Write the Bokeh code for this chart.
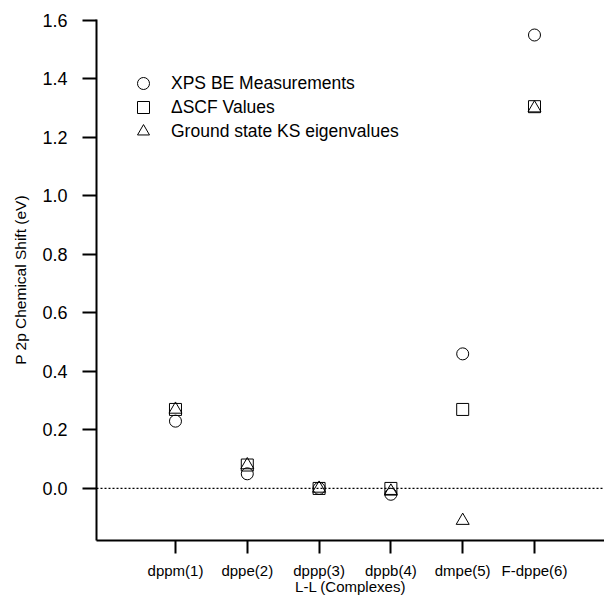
from bokeh.plotting import figure
from bokeh.models import Range1d, Span, Legend, LegendItem, FixedTicker
from bokeh.embed import file_html
from bokeh.resources import INLINE

categories = ["dppm(1)", "dppe(2)", "dppp(3)", "dppb(4)", "dmpe(5)", "F-dppe(6)"]
positions = [1, 2, 3, 4, 5, 6]
xps_be = [0.23, 0.05, 0.0, -0.02, 0.46, 1.55]
dscf = [0.27, 0.08, 0.0, 0.0, 0.27, 1.305]
ks_eigen = [0.27, 0.08, 0.0, -0.01, -0.11, 1.30]
y_ticks = [0.0, 0.2, 0.4, 0.6, 0.8, 1.0, 1.2, 1.4, 1.6]
series_labels = ["XPS BE Measurements", "\u0394SCF Values", "Ground state KS eigenvalues"]
x_title = "L-L (Complexes)"
y_title = "P 2p Chemical Shift (eV)"

FONT = "Liberation Sans"

p = figure(width=604, height=597, output_backend="svg", toolbar_location=None,
           x_range=Range1d(-0.1, 6.975), y_range=Range1d(-0.178, 1.603),
           min_border_left=96, min_border_right=0, min_border_top=19, min_border_bottom=57)
p.outline_line_color = None
p.xgrid.visible = False
p.ygrid.visible = False
p.background_fill_color = "white"
p.border_fill_color = "white"

zero = Span(location=0, dimension="width", line_color="black", line_width=1.2, line_dash="2 2")
p.add_layout(zero)

r1 = p.scatter(positions, xps_be, marker="circle", size=12, fill_color=None, line_color="black", line_width=1)
r2 = p.scatter(positions, dscf, marker="square", size=12, fill_color=None, line_color="black", line_width=1)
r3 = p.scatter(positions, ks_eigen, marker="triangle", size=13, fill_color=None, line_color="black", line_width=1)

for i, (lab, r) in enumerate(zip(series_labels, [r1, r2, r3])):
    lg = Legend(items=[LegendItem(label=lab, renderers=[r])],
                location=(32, 442 - 24 * i), glyph_width=30, glyph_height=30, label_height=30,
                padding=0, margin=0, label_standoff=13, border_line_color=None,
                background_fill_alpha=0, label_text_font=FONT, label_text_font_size="17.5px",
                label_text_color="black")
    p.add_layout(lg)

for ax in (p.xaxis[0], p.yaxis[0]):
    ax.axis_line_width = 2
    ax.axis_line_color = "black"
    ax.major_tick_line_width = 2
    ax.major_tick_line_color = "black"
    ax.major_tick_in = 0
    ax.minor_tick_line_color = None
    ax.major_label_text_font = FONT
    ax.major_label_text_color = "black"
    ax.axis_label_text_font = FONT
    ax.axis_label_text_font_style = "normal"
    ax.axis_label_text_color = "black"
    ax.axis_label_text_line_height = 1.0
    ax.major_label_text_line_height = 1.0

p.xaxis.ticker = FixedTicker(ticks=positions)
p.xaxis.major_label_overrides = {pos: lab for pos, lab in zip(positions, categories)}
p.xaxis.major_tick_out = 13
p.xaxis.major_label_text_font_size = "15px"
p.xaxis.major_label_standoff = 8
p.xaxis.axis_label = x_title
p.xaxis.axis_label_text_font_size = "15px"
p.xaxis.axis_label_standoff = -4

p.yaxis.ticker = FixedTicker(ticks=y_ticks)
p.yaxis.major_label_overrides = {t: f"{t:.1f}" for t in y_ticks}
p.yaxis.major_tick_out = 14
p.yaxis.major_label_text_font_size = "18px"
p.yaxis.major_label_standoff = 15
p.yaxis.axis_label = y_title
p.yaxis.axis_label_text_font_size = "15.5px"
p.yaxis.axis_label_standoff = 10

open("out.html", "w").write(file_html(p, INLINE))
